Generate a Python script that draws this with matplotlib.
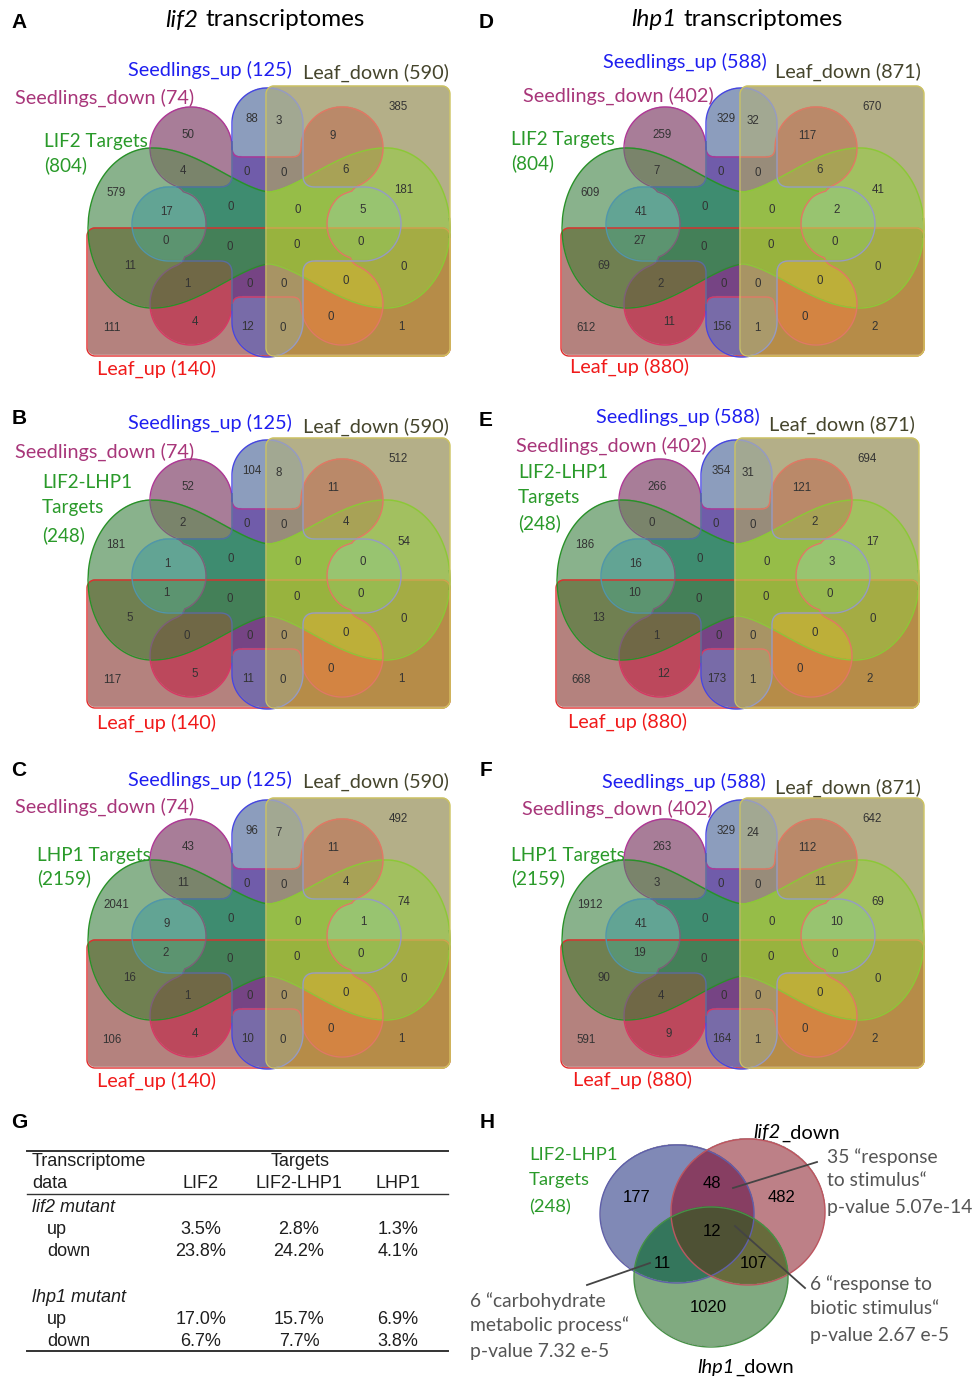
import numpy as np
import matplotlib
matplotlib.use("Agg")
import matplotlib.pyplot as plt

# ---------------- data ----------------
panels = ["A", "B", "C", "D", "E", "F"]
seed_up = [125, 125, 125, 588, 588, 588]
seed_down = [74, 74, 74, 402, 402, 402]
leaf_up = [140, 140, 140, 880, 880, 880]
leaf_down = [590, 590, 590, 871, 871, 871]
target_lab = [["LIF2 Targets", "(804)"], ["LIF2-LHP1", "Targets", "(248)"],
              ["LHP1 Targets", "(2159)"], ["LIF2 Targets", "(804)"],
              ["LIF2-LHP1", "Targets", "(248)"], ["LHP1 Targets", "(2159)"]]
titles = [("lif2", "transcriptomes"), ("lhp1", "transcriptomes")]

# U=Seedlings_up D=Seedlings_down G=targets L=Leaf_up R=Leaf_down
regions = ["R", "U", "UR", "D", "DR", "DG", "UD", "UDR", "DGR", "G", "GR", "UG", "UDG",
           "UDGR", "UGR", "UGL", "UDGL", "UDGLR", "UGLR", "GL", "GLR", "DGL", "UDL",
           "UDLR", "DGLR", "DL", "UL", "ULR", "DLR", "LR", "L"]
counts = {
    "A": [385, 88, 3, 50, 9, 4, 0, 0, 6, 579, 181, 17, 0, 0, 5, 0, 0, 0, 0, 11, 0, 1, 0, 0, 0, 4, 12, 0, 0, 1, 111],
    "B": [512, 104, 8, 52, 11, 2, 0, 0, 4, 181, 54, 1, 0, 0, 0, 1, 0, 0, 0, 5, 0, 0, 0, 0, 0, 5, 11, 0, 0, 1, 117],
    "C": [492, 96, 7, 43, 11, 11, 0, 0, 4, 2041, 74, 9, 0, 0, 1, 2, 0, 0, 0, 16, 0, 1, 0, 0, 0, 4, 10, 0, 0, 1, 106],
    "D": [670, 329, 32, 259, 117, 7, 0, 0, 6, 609, 41, 41, 0, 0, 2, 27, 0, 0, 0, 69, 0, 2, 0, 0, 0, 11, 156, 1, 0, 2, 612],
    "E": [694, 354, 31, 266, 121, 0, 0, 0, 2, 186, 17, 16, 0, 0, 3, 10, 0, 0, 0, 13, 0, 1, 0, 0, 0, 12, 173, 1, 0, 2, 668],
    "F": [642, 329, 24, 263, 112, 3, 0, 0, 11, 1912, 69, 41, 0, 0, 10, 19, 0, 0, 0, 90, 0, 4, 0, 0, 0, 9, 164, 1, 0, 2, 591],
}

tab_cols = ["LIF2", "LIF2-LHP1", "LHP1"]
lif2_up = [3.5, 2.8, 1.3]
lif2_down = [23.8, 24.2, 4.1]
lhp1_up = [17.0, 15.7, 6.9]
lhp1_down = [6.7, 7.7, 3.8]

h_regions = ["B", "BR", "R", "BRG", "BG", "RG", "G"]
h_counts = [177, 48, 482, 12, 11, 107, 1020]

# ---------------- layout ----------------
W, H = 973, 1377
fig = plt.figure(figsize=(W / 100, H / 100), dpi=100)
ax = fig.add_axes([0, 0, 1, 1])
ax.set_xlim(0, W)
ax.set_ylim(H, 0)
ax.axis("off")

LAB = "Lato"
ARL = "Liberation Sans"
LFS = 14.3

offs = [(0, 0), (0, 352), (0, 712), (474, 0), (469, 352), (474, 712)]
num_xy = [(398, 107), (252, 119), (279, 121), (188, 135), (333, 136), (183, 171), (247, 172),
          (284, 173), (346, 170), (116, 193), (404, 190), (167, 212), (231, 207), (298, 210),
          (363, 210), (166, 241), (230, 247), (297, 245), (361, 242), (130, 266), (404, 267),
          (187, 284), (250, 284), (284, 284), (346, 281), (195, 322), (248, 327), (283, 328),
          (331, 317), (401, 327), (112, 328)]
su_xy = [(128, 70), (128, 423), (128, 780), (603, 62), (596, 417), (602, 782)]
ld_xy = [(303, 73), (303, 427), (303, 782), (775, 72), (769, 425), (775, 788)]
sd_xy = [(15, 98), (15, 452), (15, 807), (523, 96), (516, 446), (522, 809)]
tg_x = [44, 42, 37, 511, 518, 511]
tg_y = [[142, 165], [483, 508, 535], [855, 878], [140, 163], [472, 498, 523], [855, 878]]
lu_xy = [(97, 369), (97, 723), (97, 1081), (570, 367), (568, 722), (573, 1080)]
letter_xy = {"A": (19, 23), "B": (19, 418), "C": (19, 770), "D": (486, 22),
             "E": (486, 420), "F": (486, 770), "G": (19, 1122), "H": (487, 1122)}

# region colours keyed by membership
col = {
    "": (255, 255, 255), "L": (181, 130, 126), "G": (138, 178, 140), "D": (168, 125, 152),
    "U": (140, 158, 190), "GL": (112, 128, 82), "DL": (188, 72, 92), "DG": (122, 132, 108),
    "DGL": (112, 104, 70), "UL": (120, 108, 168), "UG": (98, 165, 148), "UGL": (92, 148, 112),
    "UD": (112, 92, 170), "UDL": (118, 68, 132), "UDG": (62, 140, 112), "UDGL": (68, 128, 88),
    "R": (181, 175, 136), "LR": (182, 140, 72), "GR": (162, 192, 96), "GLR": (165, 172, 68),
    "DR": (186, 138, 106), "DLR": (212, 132, 66), "DGR": (168, 162, 86), "DGLR": (190, 175, 58),
    "UR": (162, 168, 146), "ULR": (170, 155, 108), "UGR": (152, 196, 112), "UGLR": (152, 186, 80),
    "UDR": (152, 140, 122), "UDLR": (168, 148, 100), "UDGR": (150, 190, 72), "UDGLR": (152, 180, 62),
}


def c(rgb):
    return tuple(v / 255 for v in rgb)


def rrect(X, Y, x0, x1, y0, y1, r):
    qx = np.abs(X - (x0 + x1) / 2) - ((x1 - x0) / 2 - r)
    qy = np.abs(Y - (y0 + y1) / 2) - ((y1 - y0) / 2 - r)
    return np.hypot(np.maximum(qx, 0), np.maximum(qy, 0)) + np.minimum(np.maximum(qx, qy), 0) - r


def circ(X, Y, cx, cy, r):
    return np.hypot(X - cx, Y - cy) - r


def smin(a, b, k):
    h = np.clip(0.5 + 0.5 * (b - a) / k, 0, 1)
    return b * (1 - h) + a * h - k * h * (1 - h)


# shapes in panel-A pixel frame
xs = np.arange(78, 462, 0.5)
ys = np.arange(78, 366, 0.5)
X, Y = np.meshgrid(xs, ys)

fL = rrect(X, Y, 87, 450, 228, 356, 8)
fR = rrect(X, Y, 266, 450, 86, 356, 8)
u = np.abs(X - 269)
hh = np.where(u <= 117, 36 + 44 * np.sin(np.pi / 2 * np.minimum(u, 117) / 117) ** 1.5,
              80 * np.sqrt(np.clip(1 - ((u - 117) / 64) ** 2, 0, None)))
hh = np.where(u > 181, -(u - 181), hh)
fG = np.abs(Y - 228) - hh
fU = smin(rrect(X, Y, 232, 303, 88, 357, 35), rrect(X, Y, 132, 401, 187, 261, 37), 12)
lobeL = circ(X, Y, 169, 224, 37)
lobeR = circ(X, Y, 364, 224, 37)
fD = np.maximum(np.maximum(rrect(X, Y, 185, 350, 157, 297, 4), -lobeL), -lobeR)
for cx, cy in [(191, 148), (191, 304), (342, 148), (342, 304)]:
    fD = smin(fD, circ(X, Y, cx, cy, 41), 10)

masks = {"U": fU < 0, "D": fD < 0, "G": fG < 0, "L": fL < 0, "R": fR < 0}
code = np.zeros(X.shape, dtype=int)
for i, k in enumerate("UDGLR"):
    code += masks[k].astype(int) << (4 - i)
lut = np.zeros((32, 4))
for k, rgb in col.items():
    idx = sum(1 << (4 - "UDGLR".index(ch)) for ch in k)
    lut[idx, :3] = c(rgb)
    lut[idx, 3] = 1.0 if k else 0.0
img = lut[code]

# outline pieces: (field, keep-zone, colour)
m = 0.6
inR, outR = fR < m, fR > -m
pieces = [
    (fL, outR, (225, 45, 45)), (fL, inR, (210, 160, 80)),
    (fG, outR, (40, 145, 40)), (fG, inR, (140, 200, 55)),
    (fD, outR & (fL > -m) & (fG > -m), (175, 55, 150)),
    (fD, outR & (fL < m) & (fG > -m), (215, 55, 100)),
    (fD, outR & (fG < m), (125, 95, 120)),
    (fD, inR, (225, 120, 100)),
    (fU, outR & (fD > -m) & (fG > -m), (70, 70, 225)),
    (fU, outR & (fD > -m) & (fG < m), (80, 150, 170)),
    (fU, outR & (fD < m), (85, 110, 160)),
    (fU, inR, (150, 155, 195)),
]

for p, (ox, oy) in zip(panels, offs):
    ax.imshow(img, extent=(xs[0] + ox, xs[-1] + ox, ys[-1] + oy, ys[0] + oy),
              origin="upper", aspect="auto", interpolation="antialiased", zorder=1)
    for F, keep, lc in pieces:
        ax.contour(X + ox, Y + oy, np.ma.masked_where(~keep, F), levels=[0],
                   colors=[c(lc)], linewidths=1.0, zorder=2)
    ax.contour(X + ox, Y + oy, fR, levels=[0], colors=[c((205, 195, 95))], linewidths=1.0, zorder=3)
    for v, (x, y) in zip(counts[p], num_xy):
        ax.text(x + ox, y + oy, str(v), ha="center", va="center", fontsize=8.3,
                family=ARL, color="#333333", zorder=4)

# set labels
for i, p in enumerate(panels):
    ax.text(*su_xy[i], f"Seedlings_up ({seed_up[i]})", color="#1f1ff0", fontsize=LFS,
            family=LAB, ha="left", va="center")
    ax.text(*ld_xy[i], f"Leaf_down ({leaf_down[i]})", color="#45452c", fontsize=LFS,
            family=LAB, ha="left", va="center")
    ax.text(*sd_xy[i], f"Seedlings_down ({seed_down[i]})", color="#a8367a", fontsize=LFS,
            family=LAB, ha="left", va="center")
    ax.text(*lu_xy[i], f"Leaf_up ({leaf_up[i]})", color="#f01a1a", fontsize=LFS,
            family=LAB, ha="left", va="center")
    for line, y in zip(target_lab[i], tg_y[i]):
        ax.text(tg_x[i], y, line, color="#2a9a2a", fontsize=13.6, family=LAB,
                ha="left", va="center")

for p, (x, y) in letter_xy.items():
    ax.text(x, y, p, fontsize=15, fontweight="bold", family=ARL, ha="center", va="center")

# titles
for (it, rest), xs_ in zip(titles, [198, 677]):
    ax.text(xs_, 20, it, style="italic", fontsize=17.5, family=LAB, ha="right", va="center")
    ax.text(xs_ + 7, 20, rest, fontsize=17.5, family=LAB, ha="left", va="center")

# ---------------- table G ----------------
tc = "#1e1e1e"
TFS = 13
for y, lw in [(1151, 1.4), (1194, 1.0), (1351, 1.4)]:
    ax.plot([27, 448], [y, y], color="#333333", lw=lw)
col_x = [201, 299, 398]
ax.text(32, 1162, "Transcriptome", fontsize=TFS, family=ARL, color=tc, va="center")
ax.text(32, 1183, "data", fontsize=TFS, family=ARL, color=tc, va="center")
ax.text(300, 1162, "Targets", fontsize=TFS, family=ARL, color=tc, va="center", ha="center")
for x, t in zip(col_x, tab_cols):
    ax.text(x, 1183, t, fontsize=TFS, family=ARL, color=tc, va="center", ha="center")
for head, y0, rows in [("lif2 mutant", 1207, [lif2_up, lif2_down]),
                       ("lhp1 mutant", 1297, [lhp1_up, lhp1_down])]:
    ax.text(32, y0, head, fontsize=TFS, family=ARL, style="italic", color=tc, va="center")
    for j, (name, vals) in enumerate(zip(["up", "down"], rows)):
        y = y0 + 22 + 22 * j
        ax.text(47, y, name, fontsize=TFS, family=ARL, color=tc, va="center")
        for x, v in zip(col_x, vals):
            ax.text(x, y, f"{v:.1f}%", fontsize=TFS, family=ARL, color=tc, va="center", ha="center")

# ---------------- panel H ----------------
hx = np.arange(590, 840, 0.5)
hy = np.arange(1130, 1356, 0.5)
HX, HY = np.meshgrid(hx, hy)
fB = ((HX - 677) / 77) ** 2 + ((HY - 1214) / 69) ** 2 - 1
fRd = ((HX - 748) / 77) ** 2 + ((HY - 1212) / 73) ** 2 - 1
fGn = ((HX - 711) / 77) ** 2 + ((HY - 1277) / 70) ** 2 - 1
hcol = {"B": (128, 138, 182), "R": (190, 128, 135), "G": (128, 170, 128), "BR": (135, 62, 98),
        "BG": (52, 118, 92), "RG": (105, 108, 60), "BRG": (78, 82, 52)}
hcode = (fB < 0).astype(int) * 4 + (fRd < 0).astype(int) * 2 + (fGn < 0).astype(int)
hlut = np.zeros((8, 4))
for k, rgb in hcol.items():
    idx = ("B" in k) * 4 + ("R" in k) * 2 + ("G" in k)
    hlut[idx, :3] = c(rgb)
    hlut[idx, 3] = 1
ax.imshow(hlut[hcode], extent=(hx[0], hx[-1], hy[-1], hy[0]), origin="upper",
          aspect="auto", interpolation="antialiased", zorder=1)
for F, lc in [(fB, (95, 95, 170)), (fRd, (190, 85, 95)), (fGn, (70, 145, 70))]:
    ax.contour(HX, HY, F, levels=[0], colors=[c(lc)], linewidths=1.0, zorder=2)
h_xy = [(637, 1197), (712, 1183), (782, 1197), (712, 1231), (662, 1263), (754, 1264), (708, 1308)]
for v, (x, y) in zip(h_counts, h_xy):
    ax.text(x, y, str(v), fontsize=12, family=ARL, ha="center", va="center", zorder=4)

for line, y in zip(["LIF2-LHP1", "Targets", "(248)"], [1155, 1180, 1207]):
    ax.text(529, y, line, color="#2a9a2a", fontsize=13.3, family=LAB, va="center")
ax.text(781, 1133, "lif2", style="italic", fontsize=14.5, family=LAB, va="center", ha="right")
ax.text(781, 1133, "_down", fontsize=14.5, family=LAB, va="center", ha="left")
ax.text(735, 1367, "lhp1", style="italic", fontsize=14.5, family=LAB, va="center", ha="right")
ax.text(735, 1367, "_down", fontsize=14.5, family=LAB, va="center", ha="left")

gc = "#555555"
for x, ys_, lines in [(827, [1157, 1180, 1207], ["35 “response", "to stimulus“", "p-value 5.07e-14"]),
                      (810, [1284, 1309, 1335], ["6 “response to", "biotic stimulus“", "p-value 2.67 e-5"]),
                      (470, [1301, 1325, 1352], ["6 “carbohydrate", "metabolic process“", "p-value 7.32 e-5"])]:
    for y, t in zip(ys_, lines):
        ax.text(x, y, t, fontsize=13.9, family=LAB, color=gc, va="center")
for (x0, y0), (x1, y1) in [((733, 1188), (817, 1162)), ((735, 1226), (805, 1288)),
                           ((650, 1263), (587, 1285))]:
    ax.plot([x0, x1], [y0, y1], color="#444444", lw=1.3, zorder=5)

fig.savefig("out.png", dpi=100)
